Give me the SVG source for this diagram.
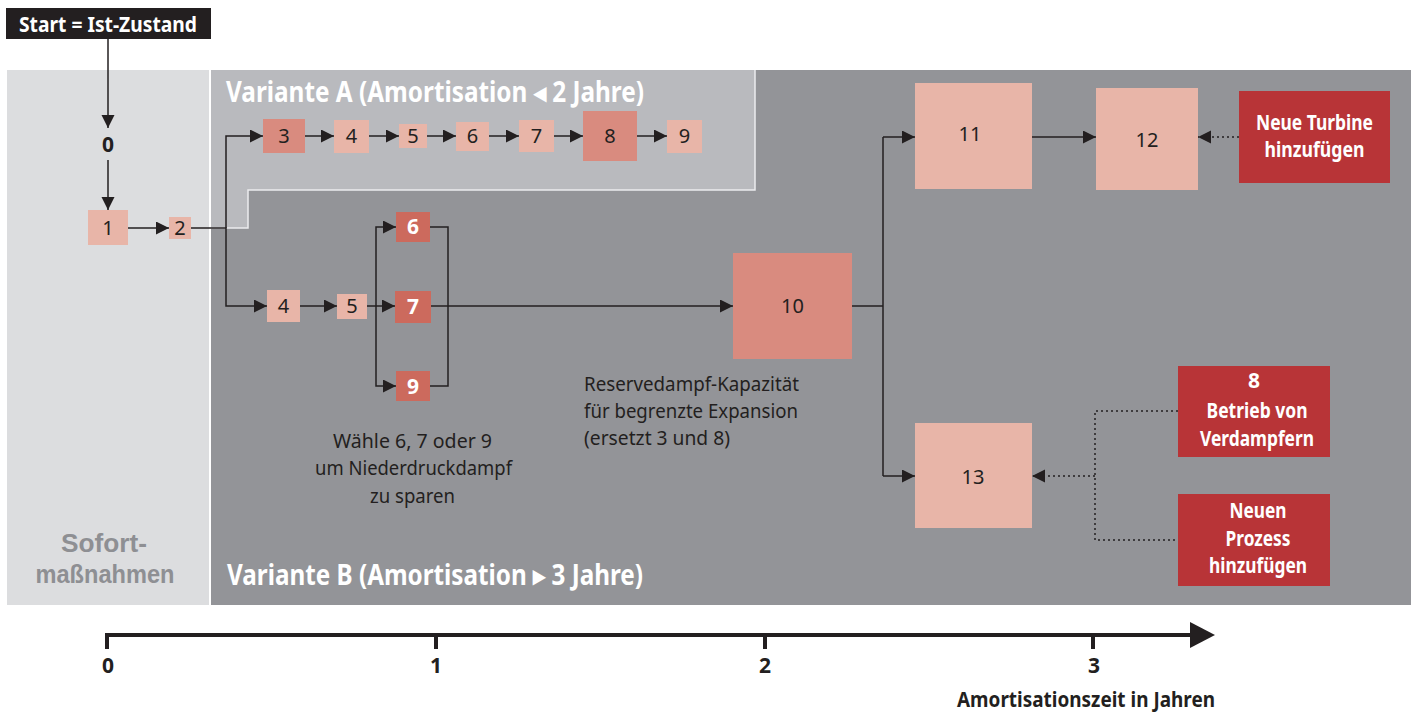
<svg xmlns="http://www.w3.org/2000/svg" width="1415" height="715" viewBox="0 0 1415 715">
  <style>
    .lt { fill: #e8b5a8; }
    .md { fill: #d98b7f; }
    .dk { fill: #cc6a5d; }
    .rd { fill: #b83437; }
    .ln { stroke: #231f20; stroke-width: 1.5; fill: none; }
    .dot { stroke: #231f20; stroke-width: 1.5; stroke-dasharray: 2 3; fill: none; }
    .axis { stroke: #231f20; stroke-width: 4; fill: none; }
    .num { font-family: "Noto Sans", "Open Sans", sans-serif; font-size: 20px; fill: #231f20; text-anchor: middle; }
    .numw { font-family: "Noto Sans", "Open Sans", sans-serif; font-size: 21px; font-weight: bold; fill: #ffffff; text-anchor: middle; }
    .note { font-family: "Noto Sans", "Open Sans", sans-serif; font-size: 20px; fill: #231f20; }
    .head { font-family: "Noto Sans", "Open Sans", sans-serif; font-weight: bold; fill: #ffffff; }
    .zone { font-family: "Liberation Sans", Arial, sans-serif; font-size: 26px; font-weight: bold; fill: #8e8f93; text-anchor: middle; }
    .red { font-family: "Noto Sans", "Open Sans", sans-serif; font-size: 21px; font-weight: bold; fill: #ffffff; text-anchor: middle; }
    .tick { font-family: "Noto Sans", "Open Sans", sans-serif; font-size: 21px; font-weight: bold; fill: #231f20; text-anchor: middle; }
  </style>
  <defs>
    <marker id="arr" markerUnits="userSpaceOnUse" markerWidth="14" markerHeight="14" refX="13" refY="6.5" orient="auto">
      <path d="M0,0 L13,6.5 L0,13 z" fill="#231f20"/>
    </marker>
  </defs>

  <rect width="1415" height="715" fill="#ffffff"/>

  <!-- background zones -->
  <g id="zones">
    <rect x="7" y="70" width="202" height="535" fill="#dcdddf"/>
    <rect x="211" y="70" width="1200" height="535" fill="#939498"/>
    <path d="M211,70 H755 V190 H248 V228 H211 Z" fill="#b9babe"/>
    <path d="M755,70 V190 H248 V228 H211" fill="none" stroke="#ececee" stroke-width="1.5"/>
    <text class="head" x="226" y="102" font-size="28" textLength="418" lengthAdjust="spacingAndGlyphs">Variante A (Amortisation ◂ 2 Jahre)</text>
    <text class="head" x="227" y="585" font-size="28" textLength="416" lengthAdjust="spacingAndGlyphs">Variante B (Amortisation ▸ 3 Jahre)</text>
    <text class="zone" x="104" y="552" textLength="86" lengthAdjust="spacingAndGlyphs">Sofort-</text>
    <text class="zone" x="105" y="583" textLength="139" lengthAdjust="spacingAndGlyphs">maßnahmen</text>
  </g>

  <!-- start -->
  <g id="start">
    <rect x="6" y="8" width="205" height="31" fill="#231f20"/>
    <text class="head" x="19" y="32" font-size="21" textLength="178" lengthAdjust="spacingAndGlyphs">Start = Ist-Zustand</text>
  </g>
  <g id="n0">
    <text class="tick" x="108" y="152" font-size="20">0</text>
  </g>

  <!-- connectors -->
  <g id="connectors">
    <path class="ln" d="M108,39 V128" marker-end="url(#arr)"/>
    <path class="ln" d="M108,160 V210" marker-end="url(#arr)"/>
    <path class="ln" d="M128,228 H169" marker-end="url(#arr)"/>
    <path class="ln" d="M226,228 V136 H263" marker-end="url(#arr)"/>
    <path class="ln" d="M191,228 H226 V306 H267" marker-end="url(#arr)"/>
    <!-- Variante A chain -->
    <path class="ln" d="M305,136 H334" marker-end="url(#arr)"/>
    <path class="ln" d="M369,136 H399" marker-end="url(#arr)"/>
    <path class="ln" d="M427,136 H456" marker-end="url(#arr)"/>
    <path class="ln" d="M489,136 H519" marker-end="url(#arr)"/>
    <path class="ln" d="M554,136 H583" marker-end="url(#arr)"/>
    <path class="ln" d="M637,136 H667" marker-end="url(#arr)"/>
    <!-- Variante B chain -->
    <path class="ln" d="M300,306 H337" marker-end="url(#arr)"/>
    <path class="ln" d="M367,306 H395" marker-end="url(#arr)"/>
    <path class="ln" d="M376,306 V227 H396" marker-end="url(#arr)"/>
    <path class="ln" d="M376,306 V386 H396" marker-end="url(#arr)"/>
    <path class="ln" d="M430,227 H448 V386 H430"/>
    <path class="ln" d="M431,306 H733" marker-end="url(#arr)"/>
    <path class="ln" d="M852,306 H883"/>
    <path class="ln" d="M883,137 V476"/>
    <path class="ln" d="M883,137 H915" marker-end="url(#arr)"/>
    <path class="ln" d="M883,476 H915" marker-end="url(#arr)"/>
    <path class="ln" d="M1032,137 H1096" marker-end="url(#arr)"/>
    <!-- external inputs -->
    <path class="dot" d="M1239,137 H1198" marker-end="url(#arr)"/>
    <path class="dot" d="M1178,411 H1095 V540 H1178"/>
    <path class="dot" d="M1095,476 H1032" marker-end="url(#arr)"/>
  </g>

  <!-- immediate measures -->
  <g id="n1"><rect class="lt" x="88" y="210" width="40" height="35"/><text class="num" x="108" y="235">1</text></g>
  <g id="n2"><rect class="lt" x="169" y="217" width="22" height="22"/><text class="num" x="180" y="235">2</text></g>

  <!-- Variante A -->
  <g id="a3"><rect class="md" x="263" y="119" width="42" height="34"/><text class="num" x="284" y="143">3</text></g>
  <g id="a4"><rect class="lt" x="334" y="120" width="35" height="33"/><text class="num" x="351.5" y="143">4</text></g>
  <g id="a5"><rect class="lt" x="399" y="124" width="28" height="24"/><text class="num" x="413" y="143">5</text></g>
  <g id="a6"><rect class="lt" x="456" y="122" width="33" height="29"/><text class="num" x="472.5" y="143">6</text></g>
  <g id="a7"><rect class="lt" x="519" y="120" width="35" height="32"/><text class="num" x="536.5" y="143">7</text></g>
  <g id="a8"><rect class="md" x="583" y="111" width="54" height="50"/><text class="num" x="610" y="143">8</text></g>
  <g id="a9"><rect class="lt" x="667" y="120" width="35" height="33"/><text class="num" x="684.5" y="143">9</text></g>

  <!-- Variante B -->
  <g id="b4"><rect class="lt" x="267" y="290" width="33" height="32"/><text class="num" x="283.5" y="313">4</text></g>
  <g id="b5"><rect class="lt" x="337" y="294" width="30" height="25"/><text class="num" x="352" y="313">5</text></g>
  <g id="b6"><rect class="dk" x="396" y="212" width="34" height="30"/><text class="numw" x="413" y="234">6</text></g>
  <g id="b7"><rect class="dk" x="395" y="291" width="36" height="32"/><text class="numw" x="413" y="314">7</text></g>
  <g id="b9"><rect class="dk" x="396" y="371" width="34" height="30"/><text class="numw" x="413" y="394">9</text></g>
  <g id="note-choice">
    <text class="note" x="412.5" y="448" text-anchor="middle" textLength="159" lengthAdjust="spacingAndGlyphs">Wähle 6, 7 oder 9</text>
    <text class="note" x="413.5" y="475" text-anchor="middle" textLength="197" lengthAdjust="spacingAndGlyphs">um Niederdruckdampf</text>
    <text class="note" x="412.5" y="503" text-anchor="middle" textLength="85" lengthAdjust="spacingAndGlyphs">zu sparen</text>
  </g>
  <g id="b10"><rect class="md" x="733" y="253" width="119" height="106"/><text class="num" x="792.5" y="313">10</text></g>
  <g id="note-reserve">
    <text class="note" x="584" y="391" textLength="215" lengthAdjust="spacingAndGlyphs">Reservedampf-Kapazität</text>
    <text class="note" x="584" y="418" textLength="214" lengthAdjust="spacingAndGlyphs">für begrenzte Expansion</text>
    <text class="note" x="584" y="445" textLength="146" lengthAdjust="spacingAndGlyphs">(ersetzt 3 und 8)</text>
  </g>
  <g id="b11"><rect class="lt" x="915" y="83" width="117" height="106"/><text class="num" x="970" y="141">11</text></g>
  <g id="b12"><rect class="lt" x="1096" y="88" width="102" height="102"/><text class="num" x="1147" y="147">12</text></g>
  <g id="b13"><rect class="lt" x="915" y="423" width="117" height="105"/><text class="num" x="973" y="484">13</text></g>

  <!-- external measures -->
  <g id="turbine">
    <rect class="rd" x="1239" y="91" width="151" height="92"/>
    <text class="red" x="1314.5" y="130" textLength="117" lengthAdjust="spacingAndGlyphs">Neue Turbine</text>
    <text class="red" x="1314.5" y="157" textLength="100" lengthAdjust="spacingAndGlyphs">hinzufügen</text>
  </g>
  <g id="evaporators">
    <rect class="rd" x="1178" y="366" width="152" height="91"/>
    <text class="red" x="1254" y="388">8</text>
    <text class="red" x="1257" y="418" textLength="101" lengthAdjust="spacingAndGlyphs">Betrieb von</text>
    <text class="red" x="1257" y="446" textLength="114" lengthAdjust="spacingAndGlyphs">Verdampfern</text>
  </g>
  <g id="process">
    <rect class="rd" x="1178" y="494" width="152" height="92"/>
    <text class="red" x="1258" y="518" textLength="57" lengthAdjust="spacingAndGlyphs">Neuen</text>
    <text class="red" x="1258" y="546" textLength="65" lengthAdjust="spacingAndGlyphs">Prozess</text>
    <text class="red" x="1258" y="573" textLength="98" lengthAdjust="spacingAndGlyphs">hinzufügen</text>
  </g>

  <!-- time axis -->
  <g id="axis">
    <path class="axis" d="M107,649 V635 H1192"/>
    <path class="axis" d="M436,635 V649 M765,635 V649 M1093,635 V649"/>
    <polygon points="1190,622 1215,635 1190,648" fill="#231f20"/>
    <text class="tick" x="108" y="673">0</text>
    <text class="tick" x="436" y="673">1</text>
    <text class="tick" x="765" y="673">2</text>
    <text class="tick" x="1094" y="673">3</text>
    <text class="tick" x="1086" y="707" font-size="19" textLength="258" lengthAdjust="spacingAndGlyphs">Amortisationszeit in Jahren</text>
  </g>
</svg>
